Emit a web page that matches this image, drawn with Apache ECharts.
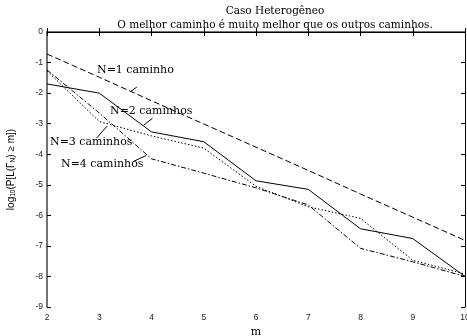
<!DOCTYPE html>
<html>
<head>
<meta charset="utf-8">
<script src="https://cdn.jsdelivr.net/npm/echarts@6.0.0/dist/echarts.min.js"></script>
<style>
  html, body { margin: 0; padding: 0; background: #fff; }
  #chart { width: 467px; height: 336px; }
</style>
</head>
<body>
<div id="chart"></div>
<script>
// m values and log10 probabilities
const mVals = [2, 3, 4, 5, 6, 7, 8, 9, 10];
const n1 = [-0.72, -1.48, -2.25, -3.01, -3.77, -4.53, -5.30, -6.06, -6.82];
const n2 = [-1.70, -2.00, -3.27, -3.59, -4.87, -5.15, -6.44, -6.76, -8.00];
const n3 = [-1.27, -2.93, -3.40, -3.80, -5.05, -5.72, -6.10, -7.47, -7.92];
const n4 = [-1.24, -2.65, -4.15, -4.62, -5.10, -5.66, -7.08, -7.52, -8.00];

// annotation texts and arrows (arrows in data coords: [from, to])
const labels = ["N=1 caminho", "N=2 caminhos", "N=3 caminhos", "N=4 caminhos"];
const labelPos = [[97, 72], [110, 113], [50, 144], [61, 166]];
const arrows = [
  [[3.72, -1.80], [3.60, -1.95]],
  [[4.02, -2.82], [3.85, -3.05]],
  [[3.15, -3.08], [2.95, -3.47]],
  [[3.90, -4.04], [3.65, -4.24]]
];

const serif = "'DejaVu Serif', 'Liberation Serif', serif";
const sans = "'Liberation Sans', Arial, sans-serif";

function pairs(ys) {
  return mVals.map((m, i) => [m, ys[i]]);
}

const myChart = echarts.init(document.getElementById("chart"));

const axisCommon = {
  axisLine: { show: true, lineStyle: { color: "#000", width: 1 } },
  axisTick: { show: true, inside: true, length: 4, lineStyle: { color: "#000" } },
  splitLine: { show: false }
};

const option = {
  animation: false,
  backgroundColor: "#fff",
  title: {
    text: "Caso Heterogêneo\nO melhor caminho é muito melhor que os outros caminhos.",
    left: 270,
    textAlign: "center",
    top: -1,
    textStyle: {
      fontFamily: serif,
      fontSize: 10.5,
      fontWeight: "normal",
      color: "#000",
      lineHeight: 14
    }
  },
  grid: {
    left: 47,
    right: 2,
    top: 32,
    bottom: 29,
    containLabel: false,
    outerBoundsMode: "none"
  },
  xAxis: [
    Object.assign({}, axisCommon, {
      type: "value",
      min: 2,
      max: 10,
      interval: 1,
      position: "bottom",
      axisLine: { show: true, lineStyle: { color: "#444", width: 1.5 } },
      axisLabel: { fontFamily: sans, fontSize: 8.5, color: "#222", margin: 6 },
      name: "m",
      nameLocation: "middle",
      nameGap: 13,
      nameTextStyle: { fontFamily: serif, fontSize: 11, color: "#000" }
    }),
    Object.assign({}, axisCommon, {
      type: "value",
      min: 2,
      max: 10,
      interval: 1,
      position: "top",
      axisLabel: { show: false }
    })
  ],
  yAxis: [
    Object.assign({}, axisCommon, {
      type: "value",
      min: -9,
      max: 0,
      interval: 1,
      position: "left",
      axisLine: { show: true, lineStyle: { color: "#444", width: 1.5 } },
      axisLabel: { fontFamily: sans, fontSize: 8.5, color: "#222", margin: 4 },
      name: "{a|log}{s|10}{a|(P[L(Γ}{s|N}{a|) ≥ m])}",
      nameLocation: "middle",
      nameGap: 30,
      nameRotate: 90,
      nameTextStyle: {
        rich: {
          a: { fontFamily: sans, fontSize: 10, color: "#000" },
          s: { fontFamily: sans, fontSize: 6.5, color: "#000", padding: [5, 0, 0, 0] }
        }
      }
    }),
    Object.assign({}, axisCommon, {
      type: "value",
      min: -9,
      max: 0,
      interval: 1,
      position: "right",
      axisLabel: { show: false }
    })
  ],
  series: [
    {
      name: labels[0],
      type: "line",
      data: pairs(n1),
      symbol: "none",
      lineStyle: { color: "#000", width: 1, type: [6, 3] }
    },
    {
      name: labels[1],
      type: "line",
      data: pairs(n2),
      symbol: "none",
      lineStyle: { color: "#000", width: 1, type: "solid" }
    },
    {
      name: labels[2],
      type: "line",
      data: pairs(n3),
      symbol: "none",
      lineStyle: { color: "#000", width: 1, type: [1.5, 2] }
    },
    {
      name: labels[3],
      type: "line",
      data: pairs(n4),
      symbol: "none",
      lineStyle: { color: "#000", width: 1, type: [5, 2, 1.5, 2] }
    }
  ]
};

myChart.setOption(option);

// annotations: text labels and little pointer lines
const graphics = [];
labels.forEach((t, i) => {
  graphics.push({
    type: "text",
    left: labelPos[i][0],
    top: labelPos[i][1] - 7,
    style: { text: t, font: "11px " + serif, fill: "#000" },
    z: 10
  });
});
arrows.forEach((a) => {
  const p1 = myChart.convertToPixel({ gridIndex: 0 }, a[0]);
  const p2 = myChart.convertToPixel({ gridIndex: 0 }, a[1]);
  graphics.push({
    type: "line",
    shape: { x1: p1[0], y1: p1[1], x2: p2[0], y2: p2[1] },
    style: { stroke: "#000", lineWidth: 1 },
    z: 10
  });
});
myChart.setOption({ graphic: graphics });
</script>
</body>
</html>
